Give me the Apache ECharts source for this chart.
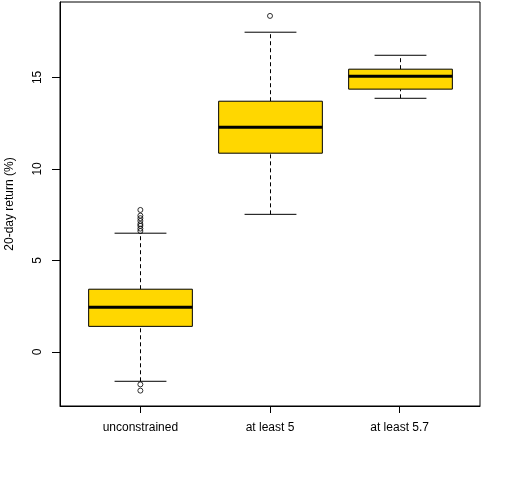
<!DOCTYPE html>
<html>
<head>
<meta charset="utf-8">
<script src="https://cdn.jsdelivr.net/npm/echarts@6/dist/echarts.min.js"></script>
<style>
  html, body { margin: 0; padding: 0; background: #fff; }
  #chart { width: 512px; height: 480px; }
</style>
</head>
<body>
<div id="chart"></div>
<script>
// Box statistics, one entry per group
var categories = ['unconstrained', 'at least 5', 'at least 5.7'];
var lowerWhisker = [-1.60, 7.52, 13.86];
var q1 = [1.40, 10.86, 14.36];
var median = [2.44, 12.28, 15.07];
var q3 = [3.43, 13.70, 15.45];
var upperWhisker = [6.49, 17.47, 16.21];

// Outliers: group position (1-based) and value
var outlierGroup = [1, 1, 1, 1, 1, 1, 1, 1, 1, 1, 2];
var outlierValue = [7.76, 7.45, 7.31, 7.16, 6.99, 6.89, 6.74, 6.61, -1.77, -2.11, 18.36];

var yTicks = [0, 5, 10, 15];
var FONT = '"Liberation Sans", Arial, sans-serif';

var boxData = categories.map(function(c, i) {
    return [i + 1, lowerWhisker[i], q1[i], median[i], q3[i], upperWhisker[i]];
});
var outlierData = outlierValue.map(function(v, i) { return [outlierGroup[i], v]; });

function renderBox(params, api) {
    var x = api.value(0);
    var half = api.size([0.8, 0])[0] / 2;
    var capHalf = half / 2;
    var pLo = api.coord([x, api.value(1)]);
    var pQ1 = api.coord([x, api.value(2)]);
    var pMed = api.coord([x, api.value(3)]);
    var pQ3 = api.coord([x, api.value(4)]);
    var pHi = api.coord([x, api.value(5)]);
    var cx = Math.round(pLo[0]) + 0.5;
    var line = function(x1, y1, x2, y2, w, dash) {
        return {
            type: 'line',
            shape: { x1: x1, y1: y1, x2: x2, y2: y2 },
            style: { stroke: '#000', lineWidth: w, lineDash: dash || null }
        };
    };
    return {
        type: 'group',
        children: [
            line(cx, pLo[1], cx, pQ1[1], 1, [4, 3]),
            line(cx, pQ3[1], cx, pHi[1], 1, [4, 3]),
            line(cx - capHalf, pLo[1], cx + capHalf, pLo[1], 1),
            line(cx - capHalf, pHi[1], cx + capHalf, pHi[1], 1),
            {
                type: 'rect',
                shape: { x: cx - half, y: pQ3[1], width: half * 2, height: pQ1[1] - pQ3[1] },
                style: { fill: '#FFD700', stroke: '#000', lineWidth: 1 }
            },
            line(cx - half, pMed[1], cx + half, pMed[1], 3)
        ]
    };
}

var chart = echarts.init(document.getElementById('chart'));
chart.setOption({
    backgroundColor: '#fff',
    animation: false,
    grid: {
        left: 60, right: 32, top: 2, bottom: 74,
        containLabel: false, outerBoundsMode: 'none',
        show: true, borderColor: '#000', borderWidth: 1, backgroundColor: 'transparent'
    },
    xAxis: {
        type: 'value', min: 0.38, max: 3.62,
        axisLine: { show: true, onZero: false, lineStyle: { color: '#000' } },
        axisTick: { show: true, length: 7, lineStyle: { color: '#000' }, customValues: [1, 2, 3] },
        axisLabel: {
            color: '#000', fontFamily: FONT, fontSize: 12, margin: 16,
            customValues: [1, 2, 3],
            formatter: function(v) { return categories[Math.round(v) - 1] || ''; }
        },
        splitLine: { show: false }
    },
    yAxis: {
        type: 'value', min: -2.95, max: 19.12,
        name: '20-day return (%)', nameLocation: 'middle', nameGap: 44, nameRotate: 90,
        nameTextStyle: { color: '#000', fontFamily: FONT, fontSize: 12 },
        axisLine: { show: true, onZero: false, lineStyle: { color: '#000' } },
        axisTick: { show: true, length: 8, lineStyle: { color: '#000' }, customValues: yTicks },
        axisLabel: {
            color: '#000', fontFamily: FONT, fontSize: 12, margin: 16, rotate: 90,
            customValues: yTicks
        },
        splitLine: { show: false }
    },
    series: [
        {
            type: 'custom',
            renderItem: renderBox,
            encode: { x: 0, y: [1, 2, 3, 4, 5] },
            data: boxData,
            silent: true
        },
        {
            type: 'scatter',
            symbol: 'circle',
            symbolSize: 5,
            itemStyle: { color: 'rgba(0,0,0,0)', borderColor: '#000', borderWidth: 1 },
            data: outlierData,
            silent: true
        }
    ]
});
</script>
</body>
</html>
